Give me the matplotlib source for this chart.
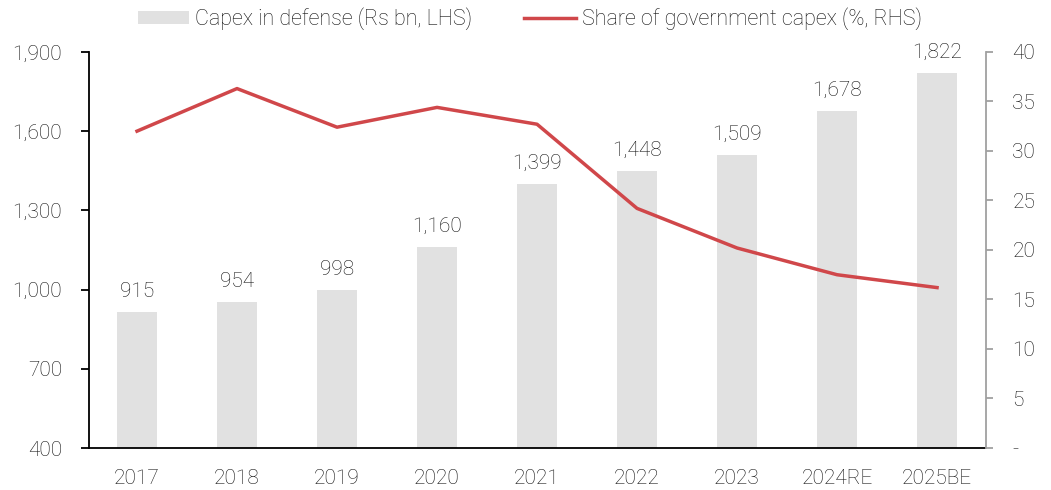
import matplotlib.pyplot as plt
from matplotlib.ticker import FixedLocator, FuncFormatter

plt.rcParams["font.family"] = ["Roboto", "DejaVu Sans"]
plt.rcParams["font.weight"] = "light"

YEARS = ["2017", "2018", "2019", "2020", "2021", "2022", "2023", "2024RE", "2025BE"]
CAPEX = [915, 954, 998, 1160, 1399, 1448, 1509, 1678, 1822]
SHARE = [32.0, 36.3, 32.4, 34.4, 32.7, 24.2, 20.2, 17.5, 16.2]

BAR_COLOR = "#e1e1e1"
LINE_COLOR = "#d0474a"
TEXT_COLOR = "#111111"
FS = 15

fig = plt.figure(figsize=(10.51, 4.90), dpi=100)
ax = fig.add_axes([0.0847, 0.0857, 0.8535, 0.8083])
ax2 = ax.twinx()

x = list(range(len(YEARS)))
bars = ax.bar(x, CAPEX, width=0.4, color=BAR_COLOR, zorder=1,
              label="Capex in defense (Rs bn, LHS)")
for xi, v in zip(x, CAPEX):
    ax.annotate(f"{v:,}", (xi, v), xytext=(0, 8), textcoords="offset points",
                ha="center", va="bottom", fontsize=FS, color=TEXT_COLOR)

line, = ax2.plot(x, SHARE, color=LINE_COLOR, linewidth=2.5,
                 label="Share of government capex (%, RHS)", zorder=3)

ax.set_xlim(-0.48, 8.49)
ax.set_ylim(400, 1900)
ax.yaxis.set_major_locator(FixedLocator(range(400, 1901, 300)))
ax.yaxis.set_major_formatter(FuncFormatter(lambda v, _: f"{int(v):,}"))
ax.set_xticks(x)
ax.set_xticklabels(YEARS)

ax2.set_ylim(0, 40)
ax2.yaxis.set_major_locator(FixedLocator(range(0, 41, 5)))
ax2.yaxis.set_major_formatter(FuncFormatter(lambda v, _: "-" if v == 0 else f"{int(v)}"))

for a in (ax, ax2):
    a.spines["top"].set_visible(False)
    for lab in a.get_yticklabels() + a.get_xticklabels():
        lab.set_fontsize(FS)
        lab.set_color(TEXT_COLOR)

ax.spines["right"].set_visible(False)
ax.spines["left"].set_color("black")
ax.spines["bottom"].set_color("black")
ax.spines["left"].set_linewidth(1.3)
ax.spines["bottom"].set_linewidth(1.3)
ax.tick_params(axis="y", direction="out", length=5.8, width=1.3, pad=13.5)
ax.tick_params(axis="x", length=0, pad=15)

ax2.spines["left"].set_visible(False)
ax2.spines["bottom"].set_visible(False)
ax2.spines["right"].set_color("#a0a0a0")
ax2.spines["right"].set_linewidth(1.3)
ax2.tick_params(axis="y", direction="out", length=5, width=1.3, colors="#a0a0a0",
                labelcolor=TEXT_COLOR, pad=14)

ax2.set_zorder(ax.get_zorder() + 1)
ax2.patch.set_visible(False)

fig.legend(handles=[bars, line], loc="center", bbox_to_anchor=(0.504, 0.962),
           ncol=2, frameon=False, fontsize=15.5, labelcolor=TEXT_COLOR,
           handlelength=2.4, handleheight=0.55, handletextpad=0.28,
           columnspacing=2.4)

fig.savefig("out.png", dpi=100)
